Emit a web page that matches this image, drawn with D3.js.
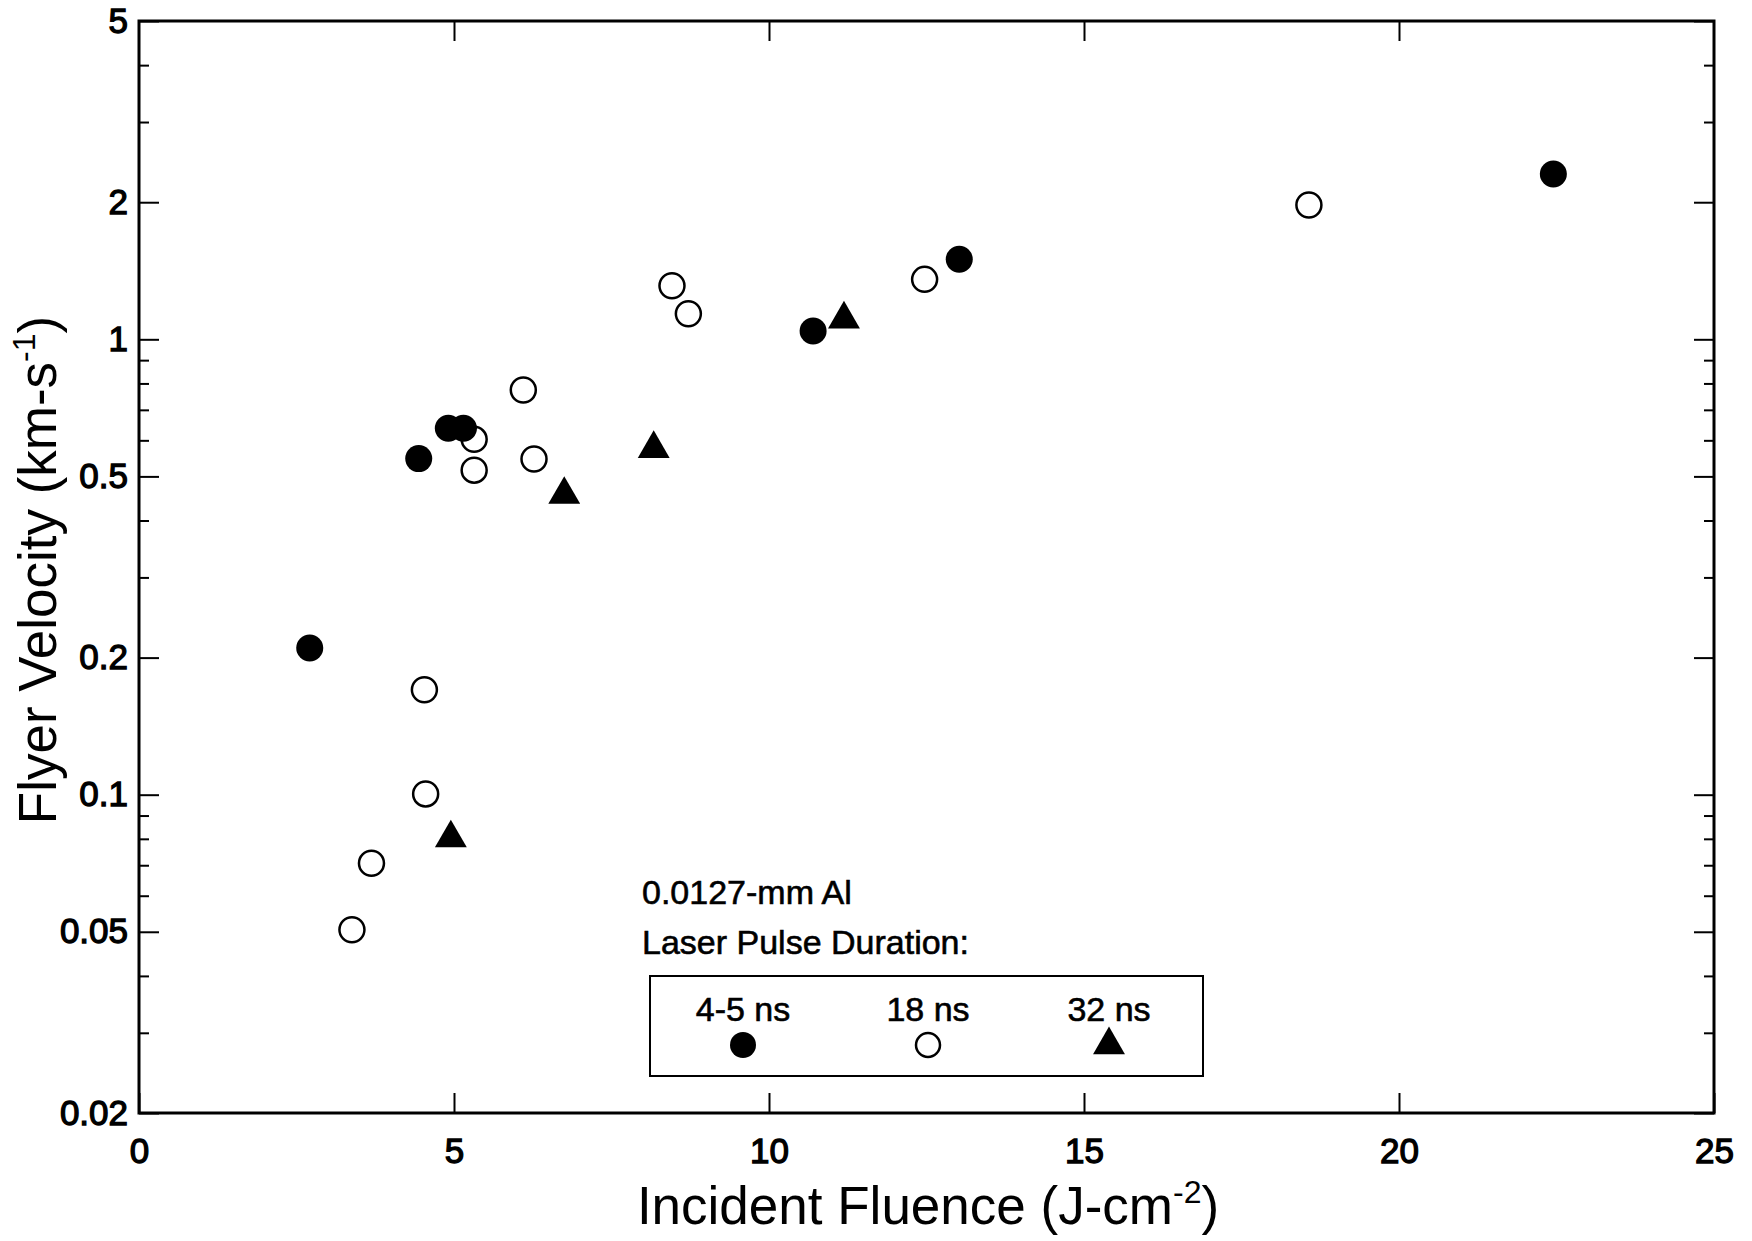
<!DOCTYPE html>
<html>
<head>
<meta charset="utf-8">
<script src="https://cdn.jsdelivr.net/npm/d3@7"></script>
<style>
  body { margin: 0; background: #fff; }
  svg text { font-family: "Liberation Sans", Arial, Helvetica, sans-serif; fill: #000; }
</style>
</head>
<body>
<svg id="canvas" width="1752" height="1241"></svg>
<script>
"use strict"

// Data (fluence in J/cm2, velocity in km/s)
const fluence45 = [2.71, 4.44, 4.91, 5.15, 10.70, 13.02, 22.45];
const velocity45 = [0.210, 0.547, 0.638, 0.638, 1.043, 1.499, 2.307];

const fluence18 = [3.38, 3.69, 4.53, 4.55, 5.32, 5.32, 6.10, 6.27, 8.46, 8.72, 12.47, 18.57];
const velocity18 = [0.0505, 0.0707, 0.170, 0.1004, 0.603, 0.516, 0.774, 0.546, 1.311, 1.138, 1.354, 1.972];

const fluence32 = [4.95, 6.75, 8.17, 11.19];
const velocity32 = [0.0803, 0.456, 0.575, 1.107];

const xTicks = [0, 5, 10, 15, 20, 25];
const yMajorTicks = [0.02, 0.05, 0.1, 0.2, 0.5, 1, 2, 5];
const yMinorTicks = [0.03, 0.04, 0.06, 0.07, 0.08, 0.09, 0.3, 0.4, 0.6, 0.7, 0.8, 0.9, 3, 4];
const legendLabels = ["4-5 ns", "18 ns", "32 ns"];

const zip = (xs, ys) => xs.map((x, i) => ({ x: x, y: ys[i] }));

let drawing = d3.select("#canvas");

/* plot frame in page pixels */
const plotLeft = 139, plotRight = 1714, plotTop = 21, plotBottom = 1113;

let x = d3.scaleLinear().domain([0, 25]).range([plotLeft, plotRight]);
let y = d3.scaleLog().domain([0.02, 5]).range([plotBottom, plotTop]);

/* axes - ticks point inward */
drawing.append("g")
    .attr("transform", "translate(0," + plotBottom + ")")
    .call(d3.axisBottom(x).tickValues(xTicks).tickSizeInner(-20).tickSizeOuter(0).tickPadding(25)
        .tickFormat(d3.format("d")));

drawing.append("g")
    .attr("transform", "translate(0," + plotTop + ")")
    .call(d3.axisTop(x).tickValues(xTicks.slice(1, -1)).tickSizeInner(-20).tickSizeOuter(0).tickFormat(""));

drawing.append("g")
    .attr("transform", "translate(" + plotLeft + ",0)")
    .call(d3.axisLeft(y).tickValues(yMajorTicks).tickSizeInner(-20).tickSizeOuter(0).tickPadding(11)
        .tickFormat(d => String(d)));

drawing.append("g")
    .attr("transform", "translate(" + plotLeft + ",0)")
    .call(d3.axisLeft(y).tickValues(yMinorTicks).tickSizeInner(-10).tickSizeOuter(0).tickFormat(""));

drawing.append("g")
    .attr("transform", "translate(" + plotRight + ",0)")
    .call(d3.axisRight(y).tickValues(yMajorTicks).tickSizeInner(-20).tickSizeOuter(0).tickFormat(""));

drawing.append("g")
    .attr("transform", "translate(" + plotRight + ",0)")
    .call(d3.axisRight(y).tickValues(yMinorTicks).tickSizeInner(-10).tickSizeOuter(0).tickFormat(""));

drawing.selectAll(".domain").remove();
drawing.selectAll(".tick line").attr("stroke", "#000").attr("stroke-width", 2);
drawing.selectAll(".tick text")
    .attr("font-size", 35)
    .attr("font-family", "'Liberation Sans', Arial, sans-serif")
    .attr("fill", "#000")
    .attr("stroke", "#000")
    .attr("stroke-width", 1.3);

/* frame */
drawing.append("rect")
    .attr("x", plotLeft)
    .attr("y", plotTop)
    .attr("width", plotRight - plotLeft)
    .attr("height", plotBottom - plotTop)
    .attr("fill", "none")
    .attr("stroke", "#000")
    .attr("stroke-width", 3);

/* axis titles */
let xTitle = drawing.append("text")
    .attr("x", 928)
    .attr("y", 1224)
    .attr("text-anchor", "middle")
    .attr("font-size", 53);
xTitle.append("tspan").text("Incident Fluence (J-cm");
xTitle.append("tspan").attr("font-size", 32).attr("dy", -21).text("-2");
xTitle.append("tspan").attr("dy", 21).text(")");

let yTitle = drawing.append("text")
    .attr("transform", "translate(56,570) rotate(-90)")
    .attr("text-anchor", "middle")
    .attr("font-size", 53);
yTitle.append("tspan").text("Flyer Velocity (km-s");
yTitle.append("tspan").attr("font-size", 32).attr("dy", -21).text("-1");
yTitle.append("tspan").attr("dy", 21).text(")");

/* markers */
const triangle = d3.symbol().type(d3.symbolTriangle).size(440);

drawing.append("g").selectAll("circle")
    .data(zip(fluence18, velocity18))
    .join("circle")
    .attr("cx", d => x(d.x))
    .attr("cy", d => y(d.y))
    .attr("r", 12.5)
    .attr("fill", "#fff")
    .attr("stroke", "#000")
    .attr("stroke-width", 2.5);

drawing.append("g").selectAll("circle")
    .data(zip(fluence45, velocity45))
    .join("circle")
    .attr("cx", d => x(d.x))
    .attr("cy", d => y(d.y))
    .attr("r", 13.5)
    .attr("fill", "#000");

drawing.append("g").selectAll("path")
    .data(zip(fluence32, velocity32))
    .join("path")
    .attr("d", triangle)
    .attr("transform", d => "translate(" + x(d.x) + "," + y(d.y) + ")")
    .attr("fill", "#000");

/* legend */
drawing.append("text")
    .attr("x", 642)
    .attr("y", 904)
    .attr("font-size", 34)
    .attr("stroke", "#000")
    .attr("stroke-width", 0.6)
    .text("0.0127-mm Al");

drawing.append("text")
    .attr("x", 642)
    .attr("y", 954)
    .attr("font-size", 34)
    .attr("stroke", "#000")
    .attr("stroke-width", 0.6)
    .text("Laser Pulse Duration:");

drawing.append("rect")
    .attr("x", 650)
    .attr("y", 976)
    .attr("width", 553)
    .attr("height", 100)
    .attr("fill", "none")
    .attr("stroke", "#000")
    .attr("stroke-width", 2);

const legendX = [743, 928, 1109];
legendLabels.forEach((label, i) => {
    drawing.append("text")
        .attr("x", legendX[i])
        .attr("y", 1021)
        .attr("text-anchor", "middle")
        .attr("font-size", 34)
        .attr("stroke", "#000")
        .attr("stroke-width", 0.6)
        .text(label);
});

drawing.append("circle")
    .attr("cx", legendX[0]).attr("cy", 1045).attr("r", 13)
    .attr("fill", "#000");
drawing.append("circle")
    .attr("cx", legendX[1]).attr("cy", 1045).attr("r", 12)
    .attr("fill", "#fff").attr("stroke", "#000").attr("stroke-width", 2.5);
drawing.append("path")
    .attr("d", triangle)
    .attr("transform", "translate(" + legendX[2] + ",1045)")
    .attr("fill", "#000");
</script>
</body>
</html>
